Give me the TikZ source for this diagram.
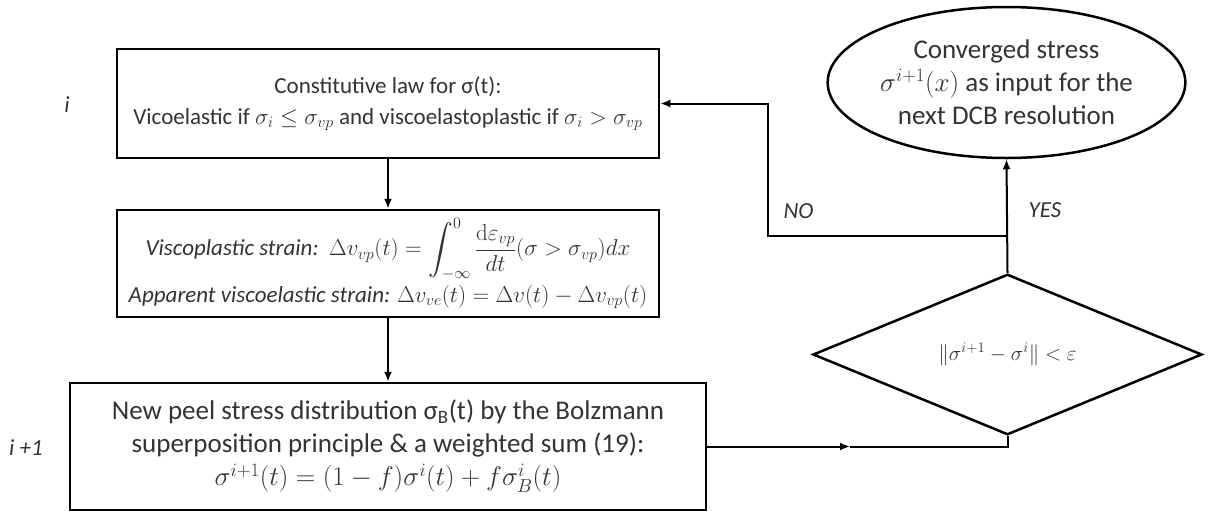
\documentclass[tikz,border=0pt]{standalone}
\usepackage{fix-cm}
\usepackage{amsmath}
\usepackage[no-math]{fontspec}
\setmainfont{Carlito}
\usepackage{tikz}
\usetikzlibrary{shapes.geometric}
\usetikzlibrary{arrows.meta}

\begin{document}
\begin{tikzpicture}[x=1pt,y=-1pt,
    font=\fontsize{23}{31}\selectfont, text=black!80,
    stepbox/.style={draw=black,line width=2.5pt,rectangle,inner sep=0pt,align=center},
    bigtext/.style={font=\fontsize{27}{33}\selectfont},
    testbox/.style={draw=black,line width=2.5pt,diamond,inner sep=0pt,minimum width=389pt,minimum height=109pt,font=\fontsize{21}{25}\selectfont},
    endbox/.style={draw=black,line width=2.5pt,ellipse,inner sep=0pt,minimum width=343pt,minimum height=151pt,align=center},
    tag/.style={font=\fontsize{23}{27}\selectfont\itshape},
    flow/.style={draw=black,line width=2pt,>={Latex[length=10pt,width=8pt]}}]
\useasboundingbox (0,0) rectangle (1209,512);

\node[stepbox,minimum width=542pt,minimum height=109pt] at (388,103.5) (law)
    {Constitutive law for σ(t):\\
     Vicoelastic if $\sigma_i \leq \sigma_{vp}$ and viscoelastoplastic if $\sigma_i > \sigma_{vp}$};
\node[stepbox,minimum width=542pt,minimum height=107pt] at (388,263.5) (strain)
    {\textit{Viscoplastic strain:}\ \ $\Delta v_{vp}(t) = \displaystyle\int_{-\infty}^{0}\frac{\mathrm{d}\varepsilon_{vp}}{dt}(\sigma > \sigma_{vp})dx$\\[4pt]
     \textit{Apparent viscoelastic strain:} $\Delta v_{ve}(t) = \Delta v(t) - \Delta v_{vp}(t)$};
\node[stepbox,bigtext,minimum width=636pt,minimum height=127pt] at (388,446.5) (peel)
    {New peel stress distribution σ\textsubscript{B}(t) by the Bolzmann\\
     superposition principle \& a weighted sum (19):\\
     $\sigma^{i+1}(t) = (1-f)\sigma^{i}(t) + f\sigma_B^{i}(t)$};
\node[testbox] at (1007.5,354.5) (check) {$\lVert\sigma^{i+1} - \sigma^{i}\rVert < \varepsilon$};
\node[endbox,bigtext] at (1006.5,82.5) (conv)
    {Converged stress\\
     $\sigma^{i+1}(x)$ as input for the\\
     next DCB resolution};

\node[tag] at (67,105) (iter) {i};
\node[tag] at (26,448) (next) {i +1};

\coordinate (mid) at (850,446.5);
\coordinate (nocorner) at (768,236);

\draw [flow, ->] (law) -- (strain);
\draw [flow, ->] (strain) -- (peel);
\draw [flow, ->] (peel.east) -- (mid);
\draw [flow] (mid) -- (check.south |- mid) -- (check.south);
\draw [flow, ->] (check.north) -- (conv.south);
\draw [flow, ->] (check.north |- nocorner) -- (nocorner) |- (law.east);

\node[tag,anchor=west] at (780,211) (no) {NO};
\node[tag,anchor=west] at (1025,210) (yes) {YES};

\end{tikzpicture}
\end{document}
